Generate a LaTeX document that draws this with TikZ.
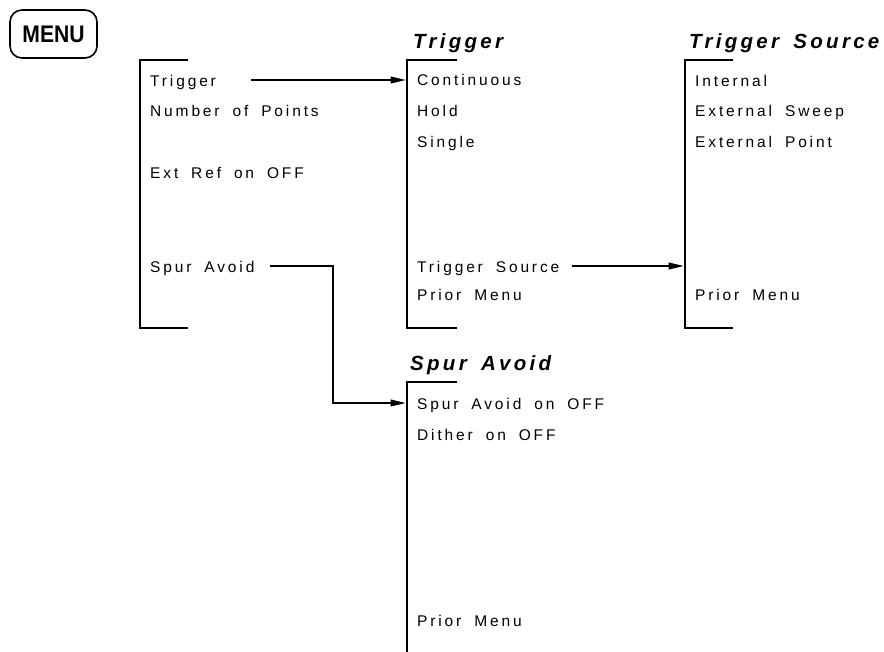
\documentclass[tikz,border=0pt]{standalone}
\usepackage{fontspec}
\setmainfont{Liberation Sans}
\newfontfamily\itemfam{Liberation Sans}[LetterSpace=18.5, WordSpace=1.8]
\newfontfamily\titlefam{Liberation Sans}[LetterSpace=16, WordSpace=1.6]
\newfontfamily\menufam{Liberation Sans}[FakeStretch=0.88]
\usetikzlibrary{arrows.meta}
\begin{document}
\begin{tikzpicture}[x=1pt,y=-1pt,
  item/.style={anchor=base west, inner sep=0pt, font=\itemfam\fontsize{15.5}{18}\selectfont},
  ttl/.style={anchor=base west, inner sep=0pt, font=\titlefam\fontsize{20.5}{24}\selectfont\bfseries\itshape},
  bracket/.style={line width=1.6pt},
  conn/.style={line width=1.1pt, shorten >=1.5pt, -{Triangle[length=15pt,width=7pt]}}]
\useasboundingbox (0,0) rectangle (884,651);

% MENU key
\node[draw, line width=1.6pt, rounded corners=12pt, minimum width=87pt, minimum height=48pt,
      inner sep=0pt, font=\menufam\fontsize{24}{26}\selectfont\bfseries] (menu) at (53.5,34) {MENU};

% main menu
\draw[bracket] (188,60) -- (140,60) -- (140,328) -- (188,328);
\node[item] (m1) at (150,86) {Trigger};
\node[item] (m2) at (150,116) {Number of Points};
\node[item] (m3) at (150,178) {Ext Ref on OFF};
\node[item] (m4) at (150,272) {Spur Avoid};

% Trigger menu
\node[ttl] (tt) at (413,48) {Trigger};
\draw[bracket] (457,60) -- (407,60) coordinate (tbar) -- (407,328) -- (457,328);
\node[item] (t1) at (417,85) {Continuous};
\node[item] (t2) at (417,116) {Hold};
\node[item] (t3) at (417,147) {Single};
\node[item] (t4) at (417,272) {Trigger Source};
\node[item] (t5) at (417,300) {Prior Menu};

% Trigger Source menu
\node[ttl] (st) at (689,48) {Trigger Source};
\draw[bracket] (733,60) -- (685,60) coordinate (sbar) -- (685,328) -- (733,328);
\node[item] (s1) at (695,86) {Internal};
\node[item] (s2) at (695,116) {External Sweep};
\node[item] (s3) at (695,147) {External Point};
\node[item] (s4) at (695,300) {Prior Menu};

% Spur Avoid menu
\node[ttl] (pt) at (410,370) {Spur Avoid};
\draw[bracket] (457,382) -- (407,382) coordinate (pbar) -- (407,652);
\node[item] (p1) at (417,409) {Spur Avoid on OFF};
\node[item] (p2) at (417,440) {Dither on OFF};
\node[item] (p3) at (417,626) {Prior Menu};

% connectors
\coordinate (turn) at (333,0);
\draw[conn] ([xshift=35pt,yshift=6pt]m1.base east) coordinate (c1) -- (c1 -| tbar);
\draw[conn] ([xshift=13pt,yshift=6pt]t4.base east) coordinate (c2) -- (c2 -| sbar);
\path ([yshift=6pt]p1.base west) coordinate (q0);
\draw[conn] ([xshift=15pt,yshift=6pt]m4.base east) -| (turn |- q0) -- (q0 -| pbar);
\end{tikzpicture}
\end{document}
